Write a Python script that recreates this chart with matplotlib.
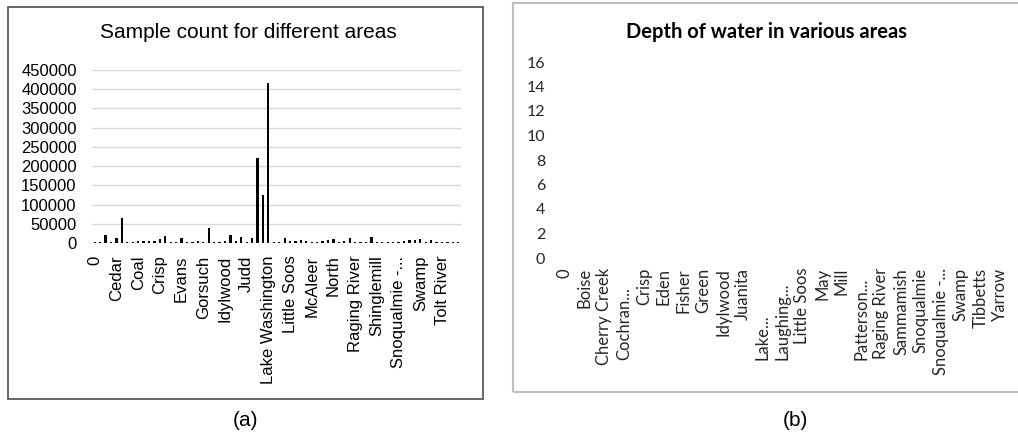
import matplotlib
matplotlib.use("Agg")
import matplotlib.pyplot as plt
from matplotlib.patches import Rectangle
from matplotlib import transforms
import numpy as np

# panel (a): sample counts, 68 areas, every 4th one labelled
sample_counts = [3000, 3000, 20000, 3000, 12000, 65000, 2000, 2000, 6000, 6000,
                 6000, 6000, 9500, 17000, 3000, 2000, 12000, 3000, 2000, 6000,
                 2000, 38000, 2000, 2000, 6000, 21000, 6000, 15000, 2000, 12000,
                 220000, 125000, 415000, 2000, 2000, 12000, 6000, 6000, 8000, 6000,
                 2000, 2000, 6000, 8000, 10000, 2000, 6000, 14000, 2000, 2000,
                 2000, 15000, 2000, 2000, 2000, 2000, 2000, 5000, 8000, 8000,
                 10000, 2000, 8000, 3000, 2000, 2000, 2000, 2000]
sample_labels = ["0", "Cedar", "Coal", "Crisp", "Evans", "Gorsuch", "Idylwood",
                 "Judd", "Lake Washington", "Little Soos", "McAleer", "North",
                 "Raging River", "Shinglemill", "Snoqualmie -...", "Swamp",
                 "Tolt River"]
sample_yticks = np.arange(0, 450001, 50000)

# panel (b): empty depth chart
depth_labels = ["0", "Boise", "Cherry Creek", "Cochran...", "Crisp", "Eden",
                "Fisher", "Green", "Idylwood", "Juanita", "Lake...", "Laughing...",
                "Little Soos", "May", "Mill", "Patterson...", "Raging River",
                "Sammamish", "Snoqualmie", "Snoqualmie -...", "Swamp", "Tibbetts",
                "Yarrow"]
depth_yticks = np.arange(0, 17, 2)

W, H = 1018, 448
fig = plt.figure(figsize=(W / 100, H / 100), dpi=100)


def px_box(left, top, right, bottom):
    return [left / W, 1 - bottom / H, (right - left) / W, (bottom - top) / H]


# ---- panel (a)
sans = "Liberation Sans"
fig.patches.append(Rectangle((8 / W, 1 - 399 / H), 475 / W, 392 / H,
                             transform=fig.transFigure, fill=False,
                             edgecolor="#595959", lw=1.3))
ax1 = fig.add_axes(px_box(92, 70, 461, 243))
x = np.arange(len(sample_counts))
ax1.bar(x, sample_counts, width=0.42, color="black", zorder=3)
ax1.set_xlim(-0.5, len(sample_counts) - 0.5)
ax1.set_ylim(0, 450000)
ax1.set_yticks(sample_yticks)
ax1.set_yticklabels([str(v) for v in sample_yticks], fontfamily=sans, fontsize=12)
ax1.set_xticks(x[::4])
ax1.set_xticklabels(sample_labels, rotation=90, fontfamily=sans, fontsize=12)
ax1.tick_params(axis="y", length=0, pad=11)
ax1.tick_params(axis="x", length=0, pad=9)
ax1.grid(axis="y", color="#d9d9d9", lw=1, zorder=0)
for s in ax1.spines.values():
    s.set_visible(False)
fig.text(248 / W, 1 - 33 / H, "Sample count for different areas",
         ha="center", va="center", fontfamily=sans, fontsize=15)
fig.text(245 / W, 1 - 420 / H, "(a)", ha="center", va="center",
         fontfamily=sans, fontsize=15)

# ---- panel (b)
cal = "Lato"
fig.patches.append(Rectangle((513 / W, 1 - 392 / H), 520 / W, 389 / H,
                             transform=fig.transFigure, fill=False,
                             edgecolor="#bfbfbf", lw=1.5))
ax2 = fig.add_axes(px_box(555, 62, 1010, 258))
xb = np.arange(len(depth_labels))
ax2.set_xlim(-0.5, len(depth_labels) - 0.5)
ax2.set_ylim(0, 16)
ax2.set_yticks(depth_yticks)
ax2.set_yticklabels([str(v) for v in depth_yticks], fontfamily=cal, fontsize=11.5,
                    color="#262626")
ax2.set_xticks([])
ax2.tick_params(axis="y", length=0, pad=7)
for s in ax2.spines.values():
    s.set_visible(False)
# Excel puts shortened labels hanging from a lower line
top_tr = transforms.offset_copy(ax2.get_xaxis_transform(), fig=fig, y=-10, units="dots")
low_tr = transforms.offset_copy(ax2.get_xaxis_transform(), fig=fig, y=-102, units="dots")
for i, lab in zip(xb, depth_labels):
    short = lab.endswith("...") and not lab.startswith("Snoqualmie")
    ax2.text(i, 0, lab, rotation=90, ha="center",
             va="bottom" if short else "top",
             transform=low_tr if short else top_tr,
             fontfamily=cal, fontsize=12, color="#262626")
fig.text(766 / W, 1 - 32 / H, "Depth of water in various areas",
         ha="center", va="center", fontfamily=cal, fontweight="bold", fontsize=14.5)
fig.text(795 / W, 1 - 420 / H, "(b)", ha="center", va="center",
         fontfamily=sans, fontsize=15)

fig.savefig("out.png", dpi=100)
